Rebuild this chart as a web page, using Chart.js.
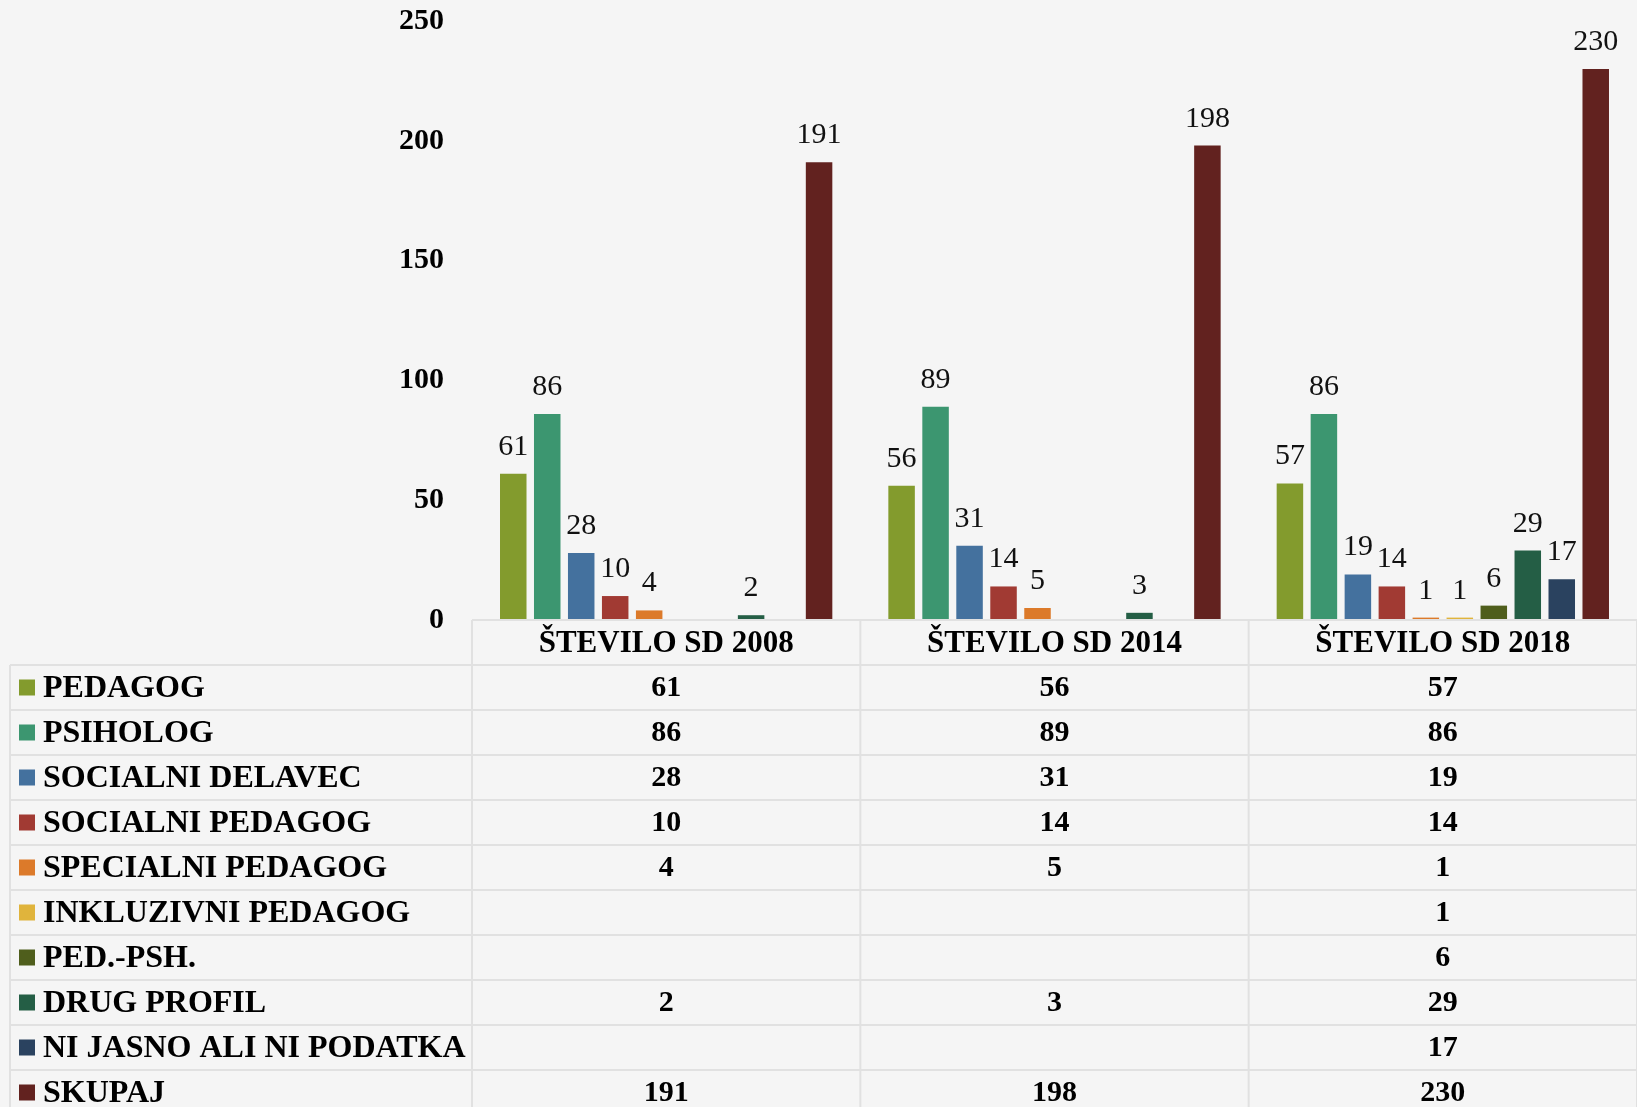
<!DOCTYPE html>
<html>
<head>
<meta charset="utf-8">
<script src="https://cdn.jsdelivr.net/npm/chart.js@4.4.1/dist/chart.umd.min.js"></script>
<style>
  html, body { margin: 0; padding: 0; background: #f5f5f5; overflow: hidden; }
  canvas { display: block; }
</style>
</head>
<body>
<canvas id="c" width="1637" height="1107"></canvas>
<script>
const categories = ['ŠTEVILO SD 2008', 'ŠTEVILO SD 2014', 'ŠTEVILO SD 2018'];
const seriesNames = ['PEDAGOG', 'PSIHOLOG', 'SOCIALNI DELAVEC', 'SOCIALNI PEDAGOG', 'SPECIALNI PEDAGOG',
  'INKLUZIVNI PEDAGOG', 'PED.-PSH.', 'DRUG PROFIL', 'NI JASNO ALI NI PODATKA', 'SKUPAJ'];
const pedagog = [61, 56, 57];
const psiholog = [86, 89, 86];
const socialniDelavec = [28, 31, 19];
const socialniPedagog = [10, 14, 14];
const specialniPedagog = [4, 5, 1];
const inkluzivniPedagog = [null, null, 1];
const pedPsh = [null, null, 6];
const drugProfil = [2, 3, 29];
const niJasno = [null, null, 17];
const skupaj = [191, 198, 230];
const yTicks = [0, 50, 100, 150, 200, 250];

const seriesValues = [pedagog, psiholog, socialniDelavec, socialniPedagog, specialniPedagog,
  inkluzivniPedagog, pedPsh, drugProfil, niJasno, skupaj];
const seriesColors = ['#839B2D', '#3C9670', '#44719E', '#A13A33', '#DC7A2A',
  '#E0B43C', '#4F5E1C', '#245E45', '#2A425F', '#62221F'];

const FONT = "'Liberation Serif', 'DejaVu Serif', serif";
const HEADER_H = 45, ROW_H = 45;

const labelPlugin = {
  id: 'valueLabels',
  afterDatasetsDraw(chart) {
    const ctx = chart.ctx;
    ctx.save();
    ctx.fillStyle = '#111';
    ctx.font = '30px ' + FONT;
    ctx.textAlign = 'center';
    ctx.textBaseline = 'alphabetic';
    chart.data.datasets.forEach((ds, di) => {
      const meta = chart.getDatasetMeta(di);
      meta.data.forEach((el, i) => {
        const v = ds.data[i];
        if (v === null || v === undefined) return;
        ctx.fillText(String(v), el.x, el.y - 19);
      });
    });
    ctx.restore();
  }
};

const tablePlugin = {
  id: 'dataTable',
  afterDraw(chart) {
    const ctx = chart.ctx;
    const area = chart.chartArea;
    const xs = chart.scales.x;
    const ys = chart.scales.y;
    const catW = area.width / categories.length;
    const top = ys.getPixelForValue(0);
    const leftEdge = 10;
    const right = area.right;
    const bottom = chart.height + 20;
    ctx.save();
    ctx.strokeStyle = '#e1e1e1';
    ctx.lineWidth = 2;
    ctx.beginPath();
    ctx.moveTo(area.left, top); ctx.lineTo(right, top);
    for (let i = 0; i <= categories.length; i++) {
      const x = area.left + i * catW;
      ctx.moveTo(x, top); ctx.lineTo(x, bottom);
    }
    ctx.moveTo(leftEdge, top + HEADER_H); ctx.lineTo(leftEdge, bottom);
    for (let r = 0; r <= seriesNames.length; r++) {
      const y = top + HEADER_H + r * ROW_H;
      ctx.moveTo(leftEdge, y); ctx.lineTo(right, y);
    }
    ctx.stroke();

    ctx.fillStyle = '#000';
    ctx.textAlign = 'center';
    ctx.textBaseline = 'middle';
    ctx.font = 'bold 31px ' + FONT;
    categories.forEach((c, i) => {
      ctx.fillText(c, xs.getPixelForValue(i), top + HEADER_H / 2 + 1);
    });

    chart.data.datasets.forEach((ds, di) => {
      const rowTop = top + HEADER_H + di * ROW_H;
      const cy = rowTop + ROW_H / 2;
      ctx.fillStyle = ds.backgroundColor;
      ctx.fillRect(19, cy - 8, 16, 16);
      ctx.fillStyle = '#000';
      ctx.textAlign = 'left';
      ctx.textBaseline = 'alphabetic';
      ctx.font = 'bold 32px ' + FONT;
      ctx.fillText(ds.label, 43, rowTop + 32);
      ctx.textAlign = 'center';
      ctx.textBaseline = 'middle';
      ctx.font = 'bold 30px ' + FONT;
      ds.data.forEach((v, i) => {
        if (v === null || v === undefined) return;
        ctx.fillText(String(v), xs.getPixelForValue(i), cy + 1);
      });
    });
    ctx.restore();
  }
};

const datasets = seriesNames.map((name, i) => ({
  label: name,
  data: seriesValues[i],
  backgroundColor: seriesColors[i],
  borderWidth: 0,
  categoryPercentage: 0.875,
  barPercentage: 0.78
}));

new Chart(document.getElementById('c'), {
  type: 'bar',
  data: { labels: categories, datasets },
  options: {
    responsive: false,
    animation: false,
    devicePixelRatio: 1,
    layout: { padding: { left: 0, right: 0, top: 21, bottom: 487 } },
    plugins: { legend: { display: false }, tooltip: { enabled: false }, title: { display: false } },
    scales: {
      x: { display: false },
      y: {
        min: 0, max: 250,
        afterFit(scale) { scale.width = 472; scale.paddingTop = 0; scale.paddingBottom = 0; },
        afterBuildTicks(scale) { scale.ticks = yTicks.map(v => ({ value: v })); },
        grid: { display: false, drawTicks: false },
        border: { display: false },
        ticks: {
          padding: 28,
          color: '#000',
          font: { family: FONT, size: 30, weight: 'bold' }
        }
      }
    }
  },
  plugins: [labelPlugin, tablePlugin]
});
</script>
</body>
</html>
